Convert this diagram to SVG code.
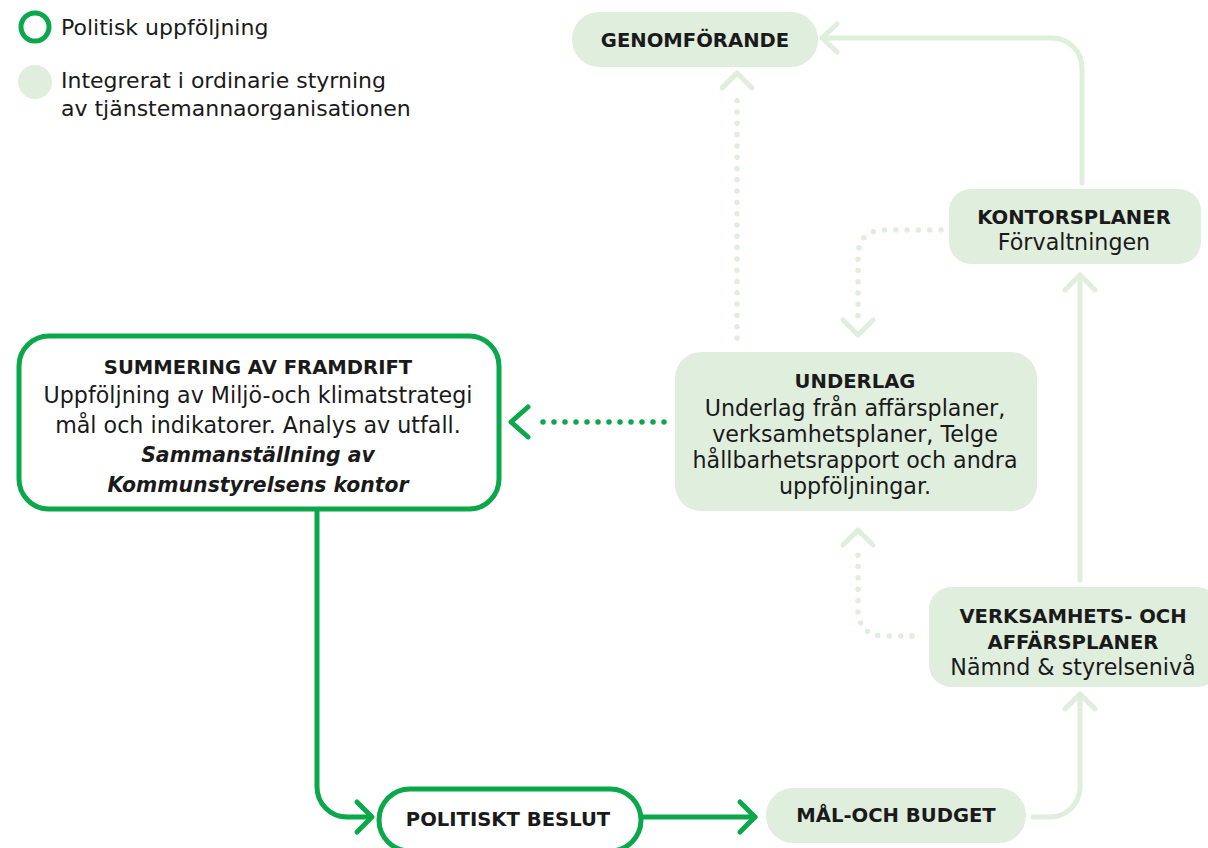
<svg xmlns="http://www.w3.org/2000/svg" width="1208" height="848" viewBox="0 0 1208 848">
<style>
text{font-family:"DejaVu Sans","Open Sans","Liberation Sans",sans-serif;fill:#1a1a1a;text-anchor:middle}
.t{font-size:22.2px}
.b{font-size:19.6px;font-weight:700}
.bi{font-size:20.4px;font-weight:700;font-style:italic}
.lg{text-anchor:start;font-size:22px}
.pol{fill:#fff;stroke:#0aa84b;stroke-width:5}
.int{fill:#e0eedd}
.lc{fill:none;stroke:#e0eedd;stroke-width:5;stroke-linecap:round;stroke-linejoin:round}
.gc{fill:none;stroke:#0aa84b;stroke-width:5;stroke-linecap:round;stroke-linejoin:round}
.ld{fill:none;stroke:#e0eedd;stroke-width:5.5;stroke-linecap:round;stroke-dasharray:0 11.3}
.gd{fill:none;stroke:#0aa84b;stroke-width:5.5;stroke-linecap:round;stroke-dasharray:0 11}
</style>
<rect width="1208" height="848" fill="#fff"/>
<g id="legend">
<circle cx="35" cy="27" r="14" fill="none" stroke="#0aa84b" stroke-width="5"/>
<text class="lg" x="61" y="35">Politisk uppföljning</text>
<circle cx="35" cy="82" r="17" fill="#e0eedd"/>
<text class="lg" x="61" y="88">Integrerat i ordinarie styrning</text>
<text class="lg" x="61" y="116">av tjänstemannaorganisationen</text>
</g>
<g id="connectors">
<path class="lc" d="M1082 183 V68 A30 30 0 0 0 1052 38 H822"/>
<path class="lc" d="M837 24 L822 38 L837 52"/>
<path class="ld" d="M737 338 V91"/>
<path class="lc" d="M722 88 L737 73 L752 88"/>
<path class="ld" d="M941 230 H885 Q858 230 858 257 V325"/>
<path class="lc" d="M843 320 L858 335 L873 320"/>
<path class="lc" d="M1080 580 V275"/>
<path class="lc" d="M1065 290 L1080 275 L1095 290"/>
<path class="ld" d="M912 636 H885 Q858 636 858 609 V545"/>
<path class="lc" d="M843 545 L858 530 L873 545"/>
<path class="lc" d="M1033 817 H1050 A30 30 0 0 0 1080 787 V694"/>
<path class="lc" d="M1065 709 L1080 694 L1095 709"/>
<path class="gd" d="M664 422 H532"/>
<path class="gc" d="M528 407 L511 422 L528 437"/>
<path class="gc" d="M317 510 V787 A30 30 0 0 0 347 817 H371"/>
<path class="gc" d="M357 802 L372 817 L357 832"/>
<path class="gc" d="M640 817 H755"/>
<path class="gc" d="M740 802 L755 817 L740 832"/>
</g>
<g id="genomforande">
<rect class="int" x="572" y="12" width="246" height="55" rx="27"/>
<text class="b" x="695" y="47">GENOMFÖRANDE</text>
</g>
<g id="kontorsplaner">
<rect class="int" x="949" y="189" width="252" height="75" rx="22"/>
<text class="b" x="1074" y="224">KONTORSPLANER</text>
<text class="t" x="1074" y="250">Förvaltningen</text>
</g>
<g id="underlag">
<rect class="int" x="675" y="352" width="362" height="159" rx="26"/>
<text class="b" x="855" y="388">UNDERLAG</text>
<text class="t" x="855" y="416">Underlag från affärsplaner,</text>
<text class="t" x="855" y="442">verksamhetsplaner, Telge</text>
<text class="t" x="855" y="468">hållbarhetsrapport och andra</text>
<text class="t" x="855" y="494">uppföljningar.</text>
</g>
<g id="summering">
<rect class="pol" x="19" y="336" width="480" height="173" rx="30"/>
<text class="b" x="258" y="374">SUMMERING AV FRAMDRIFT</text>
<text class="t" x="258" y="403">Uppföljning av Miljö-och klimatstrategi</text>
<text class="t" x="258" y="433">mål och indikatorer. Analys av utfall.</text>
<text class="bi" x="258" y="462">Sammanställning av</text>
<text class="bi" x="258" y="492">Kommunstyrelsens kontor</text>
</g>
<g id="verksamhet">
<rect class="int" x="929" y="587" width="290" height="100" rx="22"/>
<text class="b" x="1073" y="623">VERKSAMHETS- OCH</text>
<text class="b" x="1073" y="649">AFFÄRSPLANER</text>
<text class="t" x="1073" y="675">Nämnd &amp; styrelsenivå</text>
</g>
<g id="politiskt">
<rect class="pol" x="379" y="789" width="262" height="62" rx="31"/>
<text class="b" x="508" y="826">POLITISKT BESLUT</text>
</g>
<g id="malbudget">
<rect class="int" x="766" y="788" width="260" height="55" rx="27"/>
<text class="b" x="896" y="822">MÅL-OCH BUDGET</text>
</g>
</svg>
